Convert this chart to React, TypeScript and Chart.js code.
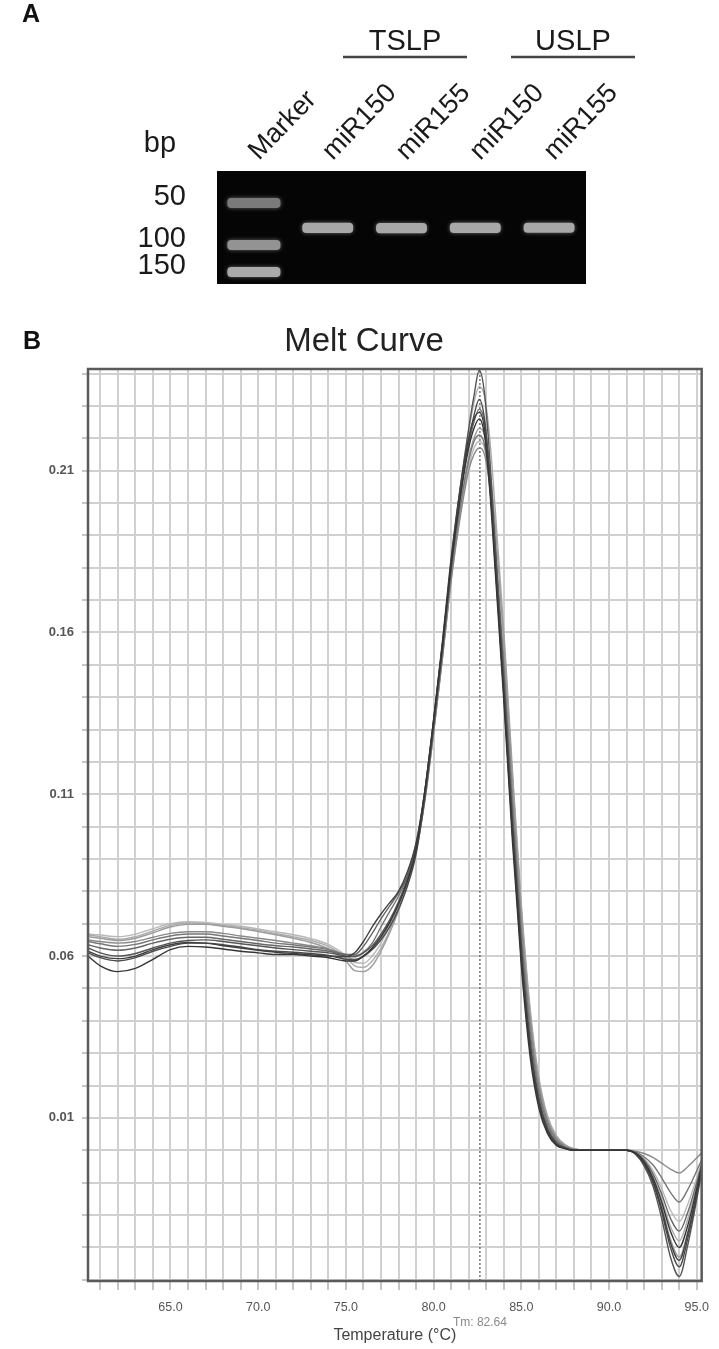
import { useEffect, useRef } from 'react';
import { Chart, registerables } from 'chart.js';

Chart.register(...registerables);

const FONT = '"Liberation Sans", Arial, Helvetica, sans-serif';

// ---------- Panel A (agarose gel) ----------
const lanes = ['Marker', 'miR150', 'miR155', 'miR150', 'miR155'];
const markerBands = [28.3, 65.5, 89.4];
const markerLabels = ['50', '100', '150'];
const markerBandColors = ['#7a7a7a', '#939393', '#aaaaaa'];
const sampleBands = [50.4, 50.6, 50.4, 50.2];
const groups = ['TSLP', 'USLP'];

// ---------- Panel B (melt curve) ----------
const temps = [60.3, 61, 62, 63, 64, 65, 66, 67, 68, 69, 70, 71, 72, 73, 74, 75, 75.5, 76, 76.5, 77, 77.5, 78, 78.5, 79, 79.5, 80, 80.5, 81, 81.5, 82, 82.3, 82.6, 82.9, 83.2, 83.5, 84, 84.5, 85, 85.5, 86, 86.5, 87, 87.5, 88, 89, 90, 91, 91.5, 92, 92.5, 93, 93.5, 94, 94.5, 95.28];

const curve1 = [0.0600, 0.0570, 0.0552, 0.0562, 0.0590, 0.0620, 0.0630, 0.0628, 0.0622, 0.0615, 0.0610, 0.0605, 0.0605, 0.0600, 0.0595, 0.0585, 0.0585, 0.0600, 0.0625, 0.0660, 0.0705, 0.0760, 0.0830, 0.0930, 0.1110, 0.1330, 0.1560, 0.1810, 0.2010, 0.2170, 0.2230, 0.2260, 0.2210, 0.2040, 0.1800, 0.1390, 0.0950, 0.0570, 0.0290, 0.0130, 0.0050, 0.0015, 0.0005, 0, 0, 0, 0, -0.0008, -0.0035, -0.0085, -0.0160, -0.0250, -0.0300, -0.0230, -0.0050];
const curve2 = [0.0610, 0.0595, 0.0585, 0.0595, 0.0615, 0.0630, 0.0640, 0.0640, 0.0635, 0.0628, 0.0620, 0.0615, 0.0612, 0.0608, 0.0602, 0.0590, 0.0588, 0.0600, 0.0620, 0.0650, 0.0690, 0.0745, 0.0815, 0.0915, 0.1090, 0.1310, 0.1545, 0.1800, 0.2010, 0.2190, 0.2270, 0.2320, 0.2260, 0.2080, 0.1830, 0.1410, 0.0970, 0.0590, 0.0310, 0.0140, 0.0055, 0.0018, 0.0005, 0, 0, 0, 0, -0.0010, -0.0042, -0.0100, -0.0190, -0.0300, -0.0360, -0.0270, -0.0065];
const curve3 = [0.0625, 0.0610, 0.0600, 0.0608, 0.0625, 0.0640, 0.0648, 0.0650, 0.0645, 0.0638, 0.0632, 0.0625, 0.0620, 0.0615, 0.0610, 0.0600, 0.0598, 0.0610, 0.0632, 0.0668, 0.0712, 0.0768, 0.0838, 0.0935, 0.1100, 0.1320, 0.1560, 0.1820, 0.2040, 0.2230, 0.2330, 0.2410, 0.2340, 0.2140, 0.1880, 0.1450, 0.1010, 0.0620, 0.0330, 0.0155, 0.0065, 0.0022, 0.0007, 0, 0, 0, 0, -0.0012, -0.0048, -0.0110, -0.0210, -0.0330, -0.0390, -0.0290, -0.0070];
const curve4 = [0.0635, 0.0625, 0.0618, 0.0625, 0.0640, 0.0652, 0.0658, 0.0658, 0.0652, 0.0645, 0.0638, 0.0632, 0.0628, 0.0622, 0.0615, 0.0605, 0.0605, 0.0630, 0.0670, 0.0715, 0.0755, 0.0795, 0.0850, 0.0945, 0.1110, 0.1325, 0.1560, 0.1810, 0.2020, 0.2180, 0.2250, 0.2290, 0.2250, 0.2100, 0.1870, 0.1470, 0.1030, 0.0640, 0.0345, 0.0165, 0.0070, 0.0025, 0.0008, 0, 0, 0, 0, -0.0008, -0.0030, -0.0072, -0.0135, -0.0210, -0.0250, -0.0190, -0.0045];
const curve5 = [0.0645, 0.0638, 0.0630, 0.0636, 0.0650, 0.0662, 0.0668, 0.0668, 0.0662, 0.0655, 0.0648, 0.0640, 0.0635, 0.0628, 0.0620, 0.0605, 0.0600, 0.0612, 0.0640, 0.0690, 0.0738, 0.0785, 0.0845, 0.0935, 0.1090, 0.1300, 0.1530, 0.1780, 0.1980, 0.2130, 0.2190, 0.2210, 0.2180, 0.2060, 0.1860, 0.1490, 0.1060, 0.0670, 0.0370, 0.0180, 0.0080, 0.0030, 0.0010, 0.0002, 0, 0, 0, -0.0005, -0.0020, -0.0045, -0.0085, -0.0130, -0.0160, -0.0120, -0.0030];
const curve6 = [0.0650, 0.0645, 0.0640, 0.0645, 0.0658, 0.0670, 0.0675, 0.0675, 0.0670, 0.0662, 0.0655, 0.0648, 0.0640, 0.0632, 0.0622, 0.0600, 0.0590, 0.0598, 0.0620, 0.0655, 0.0700, 0.0760, 0.0830, 0.0925, 0.1080, 0.1290, 0.1520, 0.1760, 0.1950, 0.2100, 0.2150, 0.2170, 0.2150, 0.2050, 0.1870, 0.1520, 0.1100, 0.0700, 0.0395, 0.0195, 0.0088, 0.0035, 0.0012, 0.0003, 0, 0, 0, -0.0003, -0.0010, -0.0022, -0.0040, -0.0058, -0.0070, -0.0050, -0.0008];
const curve7 = [0.0660, 0.0655, 0.0648, 0.0655, 0.0672, 0.0690, 0.0698, 0.0698, 0.0692, 0.0685, 0.0676, 0.0666, 0.0655, 0.0642, 0.0622, 0.0585, 0.0555, 0.0552, 0.0570, 0.0615, 0.0672, 0.0740, 0.0820, 0.0920, 0.1080, 0.1290, 0.1520, 0.1770, 0.1980, 0.2140, 0.2200, 0.2230, 0.2210, 0.2110, 0.1940, 0.1580, 0.1150, 0.0740, 0.0420, 0.0210, 0.0095, 0.0040, 0.0015, 0.0004, 0, 0, 0, -0.0009, -0.0038, -0.0092, -0.0175, -0.0275, -0.0330, -0.0250, -0.0055];
const curve8 = [0.0665, 0.0660, 0.0652, 0.0660, 0.0678, 0.0695, 0.0702, 0.0700, 0.0695, 0.0688, 0.0680, 0.0670, 0.0660, 0.0648, 0.0630, 0.0595, 0.0570, 0.0565, 0.0585, 0.0625, 0.0680, 0.0748, 0.0825, 0.0925, 0.1090, 0.1300, 0.1540, 0.1800, 0.2030, 0.2220, 0.2310, 0.2360, 0.2330, 0.2200, 0.1990, 0.1610, 0.1170, 0.0760, 0.0440, 0.0225, 0.0105, 0.0045, 0.0017, 0.0005, 0, 0, 0, -0.0008, -0.0032, -0.0078, -0.0150, -0.0235, -0.0280, -0.0210, -0.0048];
const curve9 = [0.0668, 0.0665, 0.0660, 0.0668, 0.0685, 0.0700, 0.0706, 0.0704, 0.0698, 0.0692, 0.0684, 0.0675, 0.0666, 0.0654, 0.0636, 0.0602, 0.0580, 0.0578, 0.0600, 0.0640, 0.0695, 0.0760, 0.0835, 0.0930, 0.1085, 0.1290, 0.1520, 0.1760, 0.1960, 0.2110, 0.2170, 0.2190, 0.2170, 0.2080, 0.1920, 0.1570, 0.1150, 0.0750, 0.0430, 0.0220, 0.0100, 0.0042, 0.0016, 0.0004, 0, 0, 0, -0.0006, -0.0025, -0.0062, -0.0118, -0.0185, -0.0220, -0.0165, -0.0038];
const curve10 = [0.0615, 0.0600, 0.0592, 0.0600, 0.0620, 0.0635, 0.0642, 0.0640, 0.0632, 0.0625, 0.0618, 0.0612, 0.0608, 0.0604, 0.0600, 0.0598, 0.0610, 0.0645, 0.0690, 0.0730, 0.0765, 0.0800, 0.0860, 0.0950, 0.1110, 0.1330, 0.1570, 0.1830, 0.2040, 0.2200, 0.2260, 0.2280, 0.2230, 0.2060, 0.1820, 0.1420, 0.0990, 0.0610, 0.0320, 0.0150, 0.0060, 0.0020, 0.0006, 0, 0, 0, 0, -0.0010, -0.0040, -0.0095, -0.0180, -0.0285, -0.0340, -0.0255, -0.0060];

const curves = [curve9, curve8, curve7, curve6, curve5, curve4, curve3, curve2, curve10, curve1];
const curveColors = ['#b8b8b8', '#ababab', '#9c9c9c', '#8a8a8a', '#777777', '#666666', '#555555', '#4a4a4a', '#404040', '#353535'];

const tm = 82.64;
const xMin = 60.3;
const xMax = 95.28;
const yMin = -0.0404;
const yMax = 0.2414;
const xLabelValues = [65, 70, 75, 80, 85, 90, 95];
const yLabelValues = [0.01, 0.06, 0.11, 0.16, 0.21];

export default function App() {
  const gelRef = useRef<HTMLCanvasElement>(null);
  const meltRef = useRef<HTMLCanvasElement>(null);

  useEffect(() => {
    // ----- Gel chart -----
    const bandHalf = 4.5;
    const gelDatasets: any[] = markerBands.map((b, i) => ({
      label: 'marker ' + markerLabels[i],
      data: lanes.map((_, j) => (j === 0 ? [b - bandHalf, b + bandHalf] : null)),
      backgroundColor: markerBandColors[i],
      borderWidth: 0,
      borderRadius: 4,
      borderSkipped: false,
      grouped: false,
      barPercentage: 0.72,
      categoryPercentage: 1,
    }));
    gelDatasets.push({
      label: 'samples',
      data: lanes.map((_, j) => (j === 0 ? null : [sampleBands[j - 1] - bandHalf, sampleBands[j - 1] + bandHalf])),
      backgroundColor: '#a8a8a8',
      borderWidth: 0,
      borderRadius: 4,
      borderSkipped: false,
      grouped: false,
      barPercentage: 0.69,
      categoryPercentage: 1,
    });

    const gelPlugin = {
      id: 'gelDecor',
      beforeDatasetsDraw(chart: any) {
        const { ctx, chartArea } = chart;
        ctx.save();
        ctx.fillStyle = '#050505';
        ctx.fillRect(chartArea.left, chartArea.top, chartArea.right - chartArea.left, chartArea.bottom - chartArea.top);
        ctx.shadowColor = 'rgba(200,200,200,0.5)';
        ctx.shadowBlur = 4;
      },
      afterDatasetsDraw(chart: any) {
        chart.ctx.restore();
      },
      afterDraw(chart: any) {
        const { ctx } = chart;
        ctx.save();
        ctx.fillStyle = '#111';
        ctx.textAlign = 'center';
        ctx.textBaseline = 'middle';
        ctx.font = `bold 25px ${FONT}`;
        ctx.fillText('A', 31, 15);
        ctx.font = `29px ${FONT}`;
        ctx.fillStyle = '#1a1a1a';
        ctx.textBaseline = 'alphabetic';
        ctx.fillText('bp', 160, 152);
        const centers = [405, 573];
        groups.forEach((g, i) => {
          ctx.fillText(g, centers[i], 50);
          ctx.strokeStyle = '#444';
          ctx.lineWidth = 2.5;
          ctx.beginPath();
          ctx.moveTo(centers[i] - 62, 57);
          ctx.lineTo(centers[i] + 62, 57);
          ctx.stroke();
        });
        ctx.restore();
      },
    };

    const gel = new Chart(gelRef.current!, {
      type: 'bar',
      data: { labels: lanes, datasets: gelDatasets },
      options: {
        animation: false,
        responsive: false,
        maintainAspectRatio: false,
        layout: { padding: { left: 0, right: 133, top: 0, bottom: 18 } },
        plugins: { legend: { display: false }, tooltip: { enabled: false }, title: { display: false } },
        scales: {
          x: {
            type: 'category',
            position: 'top',
            grid: { display: false, drawTicks: false },
            border: { display: false },
            ticks: {
              font: { family: FONT, size: 27 },
              color: '#1a1a1a',
              minRotation: 46,
              maxRotation: 46,
              padding: 4,
              labelOffset: 23,
              autoSkip: false,
            },
            afterFit: (s: any) => {
              s.height = 171;
            },
          },
          y: {
            type: 'linear',
            min: 0,
            max: 100,
            reverse: true,
            grid: { display: false, drawTicks: true, tickLength: 31 },
            border: { display: false },
            afterBuildTicks: (s: any) => {
              s.ticks = markerBands.map((v) => ({ value: v }));
            },
            ticks: {
              font: { family: FONT, size: 29 },
              color: '#1a1a1a',
              padding: 0,
              labelOffset: -6,
              autoSkip: false,
              callback: (_v: any, i: number) => markerLabels[i],
            },
            afterFit: (s: any) => {
              s.width = 217;
            },
          },
        },
      } as any,
      plugins: [gelPlugin],
    });

    // ----- Melt curve chart -----
    const datasets: any[] = curves.map((c, i) => ({
      label: 'well ' + (i + 1),
      data: temps.map((t, k) => ({ x: t, y: c[k] })),
      borderColor: curveColors[i],
      borderWidth: 1.4,
      pointRadius: 0,
      fill: false,
      cubicInterpolationMode: 'monotone',
      order: 10 - i,
    }));
    datasets.push({
      label: 'Tm',
      data: [
        { x: tm, y: yMin },
        { x: tm, y: yMax },
      ],
      borderColor: '#555',
      borderWidth: 1.2,
      borderDash: [2, 2],
      pointRadius: 0,
      fill: false,
      order: 100,
    });

    const xGrid: number[] = [];
    for (let t = Math.ceil(xMin); t <= Math.floor(xMax); t++) xGrid.push(t);
    const yGrid: number[] = [];
    for (let k = Math.ceil(yMin * 100); k <= Math.floor(yMax * 100); k++) yGrid.push(k / 100);

    const meltPlugin = {
      id: 'meltDecor',
      afterDraw(chart: any) {
        const { ctx, chartArea, scales } = chart;
        ctx.save();
        ctx.strokeStyle = '#5a5a5a';
        ctx.lineWidth = 2.5;
        ctx.strokeRect(chartArea.left, chartArea.top, chartArea.right - chartArea.left, chartArea.bottom - chartArea.top);
        ctx.textAlign = 'center';
        ctx.textBaseline = 'middle';
        ctx.fillStyle = '#111';
        ctx.font = `bold 25px ${FONT}`;
        ctx.fillText('B', 32, 52);
        ctx.fillStyle = '#222';
        ctx.font = `33px ${FONT}`;
        ctx.fillText('Melt Curve', 364, 52);
        ctx.font = `12px ${FONT}`;
        ctx.fillStyle = '#8a8a8a';
        ctx.fillText('Tm: ' + tm.toFixed(2), scales.x.getPixelForValue(tm), chartArea.bottom + 42);
        ctx.restore();
      },
    };

    const melt = new Chart(meltRef.current!, {
      type: 'line',
      data: { datasets },
      options: {
        animation: false,
        responsive: false,
        maintainAspectRatio: false,
        layout: { padding: { left: 0, right: 11, top: 79, bottom: 0 } },
        plugins: {
          legend: { display: false },
          tooltip: { enabled: false },
          title: { display: false },
        },
        scales: {
          x: {
            type: 'linear',
            min: xMin,
            max: xMax,
            afterBuildTicks: (s: any) => {
              s.ticks = xGrid.map((v) => ({ value: v }));
            },
            grid: { color: '#d0d0d0', lineWidth: 2, tickLength: 9, tickColor: '#a0a0a0', tickWidth: 1.2 },
            border: { display: false },
            ticks: {
              autoSkip: false,
              maxRotation: 0,
              padding: 10,
              font: { family: FONT, size: 12.5 },
              color: '#555',
              callback: (v: any) => (xLabelValues.includes(Number(v)) ? Number(v).toFixed(1) : ''),
            },
            title: {
              display: true,
              text: 'Temperature (°C)',
              font: { family: FONT, size: 16 },
              color: '#444',
              padding: { top: 0, bottom: 4 },
            },
            afterFit: (s: any) => {
              s.height = 68;
            },
          },
          y: {
            type: 'linear',
            min: yMin,
            max: yMax,
            afterBuildTicks: (s: any) => {
              s.ticks = yGrid.map((v) => ({ value: v }));
            },
            grid: { color: '#d0d0d0', lineWidth: 2, tickLength: 6, tickColor: '#a0a0a0', tickWidth: 1.2 },
            border: { display: false },
            ticks: {
              autoSkip: false,
              padding: 8,
              font: { family: FONT, size: 13, weight: 'bold' },
              color: '#555',
              callback: (v: any) => (yLabelValues.some((t) => Math.abs(t - Number(v)) < 1e-6) ? Number(v).toFixed(2) : ''),
            },
            afterFit: (s: any) => {
              s.width = 88;
            },
          },
        },
      } as any,
      plugins: [meltPlugin],
    });

    return () => {
      gel.destroy();
      melt.destroy();
    };
  }, []);

  return (
    <div style={{ position: 'absolute', left: 0, top: 0, width: 719, height: 1349, background: '#fff' }}>
      <canvas
        ref={gelRef}
        width={719}
        height={302}
        style={{ position: 'absolute', left: 0, top: 0, width: 719, height: 302 }}
      />
      <canvas
        ref={meltRef}
        width={719}
        height={1059}
        style={{ position: 'absolute', left: 0, top: 290, width: 719, height: 1059 }}
      />
    </div>
  );
}
